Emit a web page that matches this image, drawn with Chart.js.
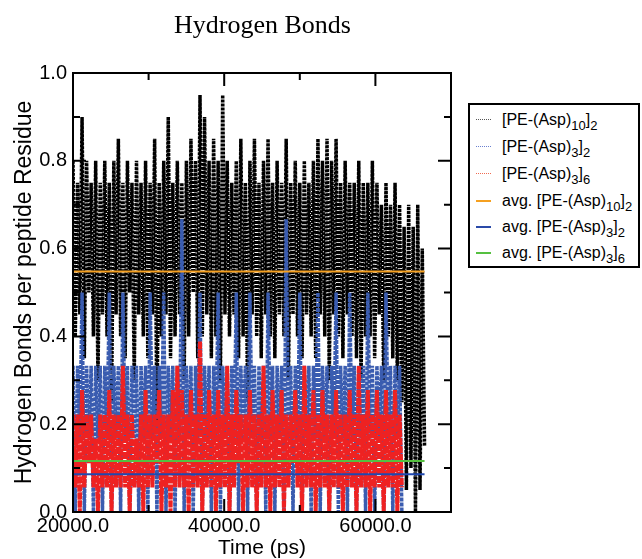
<!DOCTYPE html>
<html>
<head>
<meta charset="utf-8">
<script src="https://cdn.jsdelivr.net/npm/chart.js@4"></script>
<style>
  body { margin: 0; background: #fff; }
  #wrap { position: relative; width: 642px; height: 559px; }
  #title { position: absolute; left: 0; width: 525px; top: 10px; text-align: center;
           font-family: 'Liberation Serif', 'Times New Roman', serif; font-size: 26px; color: #000; }
  #legend { position: absolute; left: 468px; top: 103px; width: 172px; height: 165px;
            border: 2px solid #000; box-sizing: border-box; background: #fff;
            font-family: 'Liberation Sans', Arial, sans-serif; font-size: 16px; color: #000; }
  .row { position: absolute; left: 0; height: 20px; width: 200px; }
  .smp { position: absolute; left: 6px; top: 9px; width: 15px; height: 0; }
  .txt { position: absolute; left: 32px; top: 0; white-space: nowrap; line-height: 20px; }
  sub { font-size: 13px; vertical-align: -5px; line-height: 0; }
</style>
</head>
<body>
<div id="wrap">
  <canvas id="chart" width="642" height="559"></canvas>
  <div id="title">Hydrogen Bonds</div>
  <div id="legend">
    <div class="row" style="top:5px"><span class="smp" style="border-top:1px dotted #555"></span><span class="txt">[PE-(Asp)<sub>10</sub>]<sub>2</sub></span></div>
    <div class="row" style="top:32px"><span class="smp" style="border-top:1px dotted #6a80d0"></span><span class="txt">[PE-(Asp)<sub>3</sub>]<sub>2</sub></span></div>
    <div class="row" style="top:59px"><span class="smp" style="border-top:1px dotted #f06a50"></span><span class="txt">[PE-(Asp)<sub>3</sub>]<sub>6</sub></span></div>
    <div class="row" style="top:86px"><span class="smp" style="border-top:2px solid #f5a020"></span><span class="txt">avg. [PE-(Asp)<sub>10</sub>]<sub>2</sub></span></div>
    <div class="row" style="top:112px"><span class="smp" style="border-top:2px solid #2a4aa8"></span><span class="txt">avg. [PE-(Asp)<sub>3</sub>]<sub>2</sub></span></div>
    <div class="row" style="top:138px"><span class="smp" style="border-top:2px solid #55c040"></span><span class="txt">avg. [PE-(Asp)<sub>3</sub>]<sub>6</sub></span></div>
  </div>
</div>
<script>
// sampling of the trajectories (ps)
const t0 = 20000;
const dt = 300;

// [PE-(Asp)10]2, H-bonds per residue
const asp10x2 = [
  0.80,0.40,0.75,0.45,0.90,0.35,0.80,0.50,0.75,0.40,
  0.80,0.30,0.75,0.45,0.80,0.40,0.75,0.25,0.80,0.45,
  0.85,0.40,0.75,0.35,0.80,0.50,0.75,0.30,0.80,0.45,
  0.75,0.40,0.80,0.35,0.75,0.45,0.85,0.20,0.75,0.40,
  0.80,0.45,0.90,0.35,0.75,0.40,0.80,0.45,0.75,0.30,
  0.80,0.40,0.85,0.50,0.80,0.35,0.95,0.40,0.90,0.45,
  0.80,0.35,0.85,0.40,0.80,0.30,0.95,0.45,0.80,0.40,
  0.75,0.45,0.80,0.35,0.85,0.40,0.75,0.25,0.80,0.45,
  0.85,0.40,0.75,0.35,0.80,0.45,0.85,0.40,0.75,0.35,
  0.80,0.45,0.75,0.40,0.85,0.30,0.75,0.45,0.80,0.40,
  0.75,0.35,0.80,0.45,0.75,0.40,0.80,0.35,0.85,0.45,
  0.80,0.40,0.85,0.30,0.80,0.45,0.85,0.40,0.75,0.35,
  0.80,0.45,0.75,0.40,0.75,0.35,0.80,0.30,0.75,0.40,
  0.75,0.40,0.80,0.35,0.75,0.45,0.70,0.30,0.75,0.40,
  0.70,0.35,0.75,0.30,0.70,0.25,0.65,0.05,0.70,0.10,
  0.65,0.00,0.70,0.05,0.60,0.15
];

// [PE-(Asp)3]2
const asp3x2 = [
  0.333,0,0.333,0.167,0.5,0,0.333,0.167,0.333,0,
  0.333,0.167,0.333,0,0.333,0.167,0.5,0,0.333,0.167,
  0.333,0,0.5,0.167,0.333,0,0.333,0.167,0.333,0,
  0.333,0.167,0.333,0,0.5,0.167,0.333,0,0.333,0.167,
  0.5,0,0.333,0.167,0.333,0,0.333,0.167,0.667,0,
  0.333,0.167,0.333,0,0.333,0.167,0.5,0,0.333,0.167,
  0.333,0,0.333,0.167,0.5,0,0.333,0.167,0.333,0,
  0.333,0.167,0.5,0,0.333,0.167,0.333,0,0.5,0.167,
  0.333,0,0.333,0.167,0.333,0,0.5,0.167,0.333,0,
  0.333,0.167,0.333,0,0.667,0.167,0.333,0,0.333,0.167,
  0.5,0,0.333,0.167,0.333,0,0.333,0.167,0.5,0,
  0.333,0.167,0.333,0,0.333,0.167,0.5,0,0.333,0.167,
  0.333,0,0.5,0.167,0.333,0,0.333,0.167,0.333,0,
  0.5,0.167,0.333,0,0.333,0.167,0.333,0,0.5,0.167,
  0.333,0,0.333,0.167,0.333,0
];

// [PE-(Asp)3]6
const asp3x6 = [
  0.222,0.056,0.222,0,0.278,0.056,0.222,0.111,0.222,0.056,
  0.167,0,0.222,0.056,0.222,0.056,0.278,0,0.222,0.056,
  0.222,0.056,0.333,0.056,0.222,0,0.222,0.056,0.167,0.056,
  0.222,0,0.278,0.056,0.222,0.056,0.222,0.111,0.278,0,
  0.222,0.056,0.222,0,0.278,0.056,0.333,0.056,0.278,0.056,
  0.222,0,0.278,0.056,0.222,0.056,0.389,0,0.222,0.056,
  0.278,0.056,0.222,0,0.278,0.056,0.222,0.056,0.333,0,
  0.222,0.056,0.278,0.111,0.222,0,0.222,0.056,0.278,0.056,
  0.222,0,0.222,0.056,0.333,0.056,0.222,0,0.278,0.056,
  0.222,0.056,0.278,0,0.222,0.056,0.222,0.111,0.278,0.056,
  0.222,0,0.333,0.056,0.222,0.056,0.278,0,0.222,0.056,
  0.278,0.056,0.222,0,0.222,0.056,0.278,0.056,0.222,0,
  0.222,0.056,0.278,0.056,0.222,0,0.333,0.056,0.222,0.056,
  0.278,0,0.222,0.056,0.278,0.056,0.222,0,0.278,0.056,
  0.222,0.056,0.278,0,0.222,0.056
];

// averages and span of the avg. lines
const avgRange = [20000, 66500];
const avg10x2 = 0.548;
const avg3x2 = 0.086;
const avg3x6 = 0.116;

const xTicks = [20000, 40000, 60000];
const xMinor = [30000, 50000];
const yTicks = [0, 0.2, 0.4, 0.6, 0.8, 1.0];
const yMinor = [0.1, 0.3, 0.5, 0.7, 0.9];

function series(vals) {
  return vals.map((v, i) => ({ x: t0 + i * dt, y: v }));
}
function flat(v) {
  return avgRange.map(x => ({ x: x, y: v }));
}

// frame + inward ticks like the original plot
const frame = {
  id: 'frame',
  afterDatasetsDraw(chart) {
    const { ctx, chartArea: a, scales: { x, y } } = chart;
    ctx.save();
    ctx.strokeStyle = '#000';
    ctx.lineWidth = 2;
    ctx.strokeRect(a.left, a.top, a.right - a.left, a.bottom - a.top);
    ctx.beginPath();
    const tx = (v, len) => {
      const px = x.getPixelForValue(v);
      ctx.moveTo(px, a.bottom); ctx.lineTo(px, a.bottom - len);
      ctx.moveTo(px, a.top); ctx.lineTo(px, a.top + len);
    };
    const ty = (v, len) => {
      const py = y.getPixelForValue(v);
      ctx.moveTo(a.left, py); ctx.lineTo(a.left + len, py);
      ctx.moveTo(a.right, py); ctx.lineTo(a.right - len, py);
    };
    xTicks.forEach(v => tx(v, 13));
    xMinor.forEach(v => tx(v, 7));
    yTicks.forEach(v => ty(v, 13));
    yMinor.forEach(v => ty(v, 7));
    ctx.stroke();
    ctx.restore();
  }
};

const font = { family: "'Liberation Sans', Arial, sans-serif", size: 20 };
const titleFont = { family: "'Liberation Sans', Arial, sans-serif", size: 21, lineHeight: 1.0 };

new Chart(document.getElementById('chart'), {
  type: 'line',
  data: {
    datasets: [
      { label: 'avg. [PE-(Asp)10]2', data: flat(avg10x2), borderColor: '#f5a020', borderWidth: 2, order: 0 },
      { label: 'avg. [PE-(Asp)3]2', data: flat(avg3x2), borderColor: '#1f48b0', borderWidth: 2, order: 0 },
      { label: 'avg. [PE-(Asp)3]6', data: flat(avg3x6), borderColor: '#55c040', borderWidth: 2, order: 0 },
      { label: '[PE-(Asp)3]6', data: series(asp3x6), borderColor: '#ee2222', borderWidth: 4, borderDash: [7, 1], order: 3 },
      { label: '[PE-(Asp)3]2', data: series(asp3x2), borderColor: '#3a5cb0', borderWidth: 3.5, borderDash: [4, 1], order: 4 },
      { label: '[PE-(Asp)10]2', data: series(asp10x2), borderColor: '#000', borderWidth: 3.5, borderDash: [3, 1], order: 5 }
    ]
  },
  options: {
    responsive: false,
    animation: false,
    layout: { padding: { top: 73, right: 191, left: 0, bottom: 0 } },
    elements: { point: { radius: 0 }, line: { tension: 0 } },
    plugins: { legend: { display: false }, tooltip: { enabled: false } },
    scales: {
      x: {
        type: 'linear', min: 20000, max: 70000,
        afterBuildTicks: s => { s.ticks = xTicks.map(v => ({ value: v })); },
        afterFit: s => { s.height = 47; },
        grid: { display: false, drawTicks: false },
        border: { display: false },
        ticks: { font: font, color: '#000', padding: 2, maxRotation: 0, callback: v => v.toFixed(1) },
        title: { display: true, text: 'Time (ps)', font: titleFont, color: '#000', padding: { top: 0, bottom: 0 } }
      },
      y: {
        min: 0, max: 1,
        afterBuildTicks: s => { s.ticks = yTicks.map(v => ({ value: v })); },
        afterFit: s => { s.width = 73; },
        grid: { display: false, drawTicks: false },
        border: { display: false },
        ticks: { font: font, color: '#000', padding: 6, callback: v => v.toFixed(1) },
        title: { display: true, text: 'Hydrogen Bonds per peptide Residue', font: { family: titleFont.family, size: 23 }, color: '#000', padding: { top: 11, bottom: 0 } }
      }
    }
  },
  plugins: [frame]
});
</script>
</body>
</html>
